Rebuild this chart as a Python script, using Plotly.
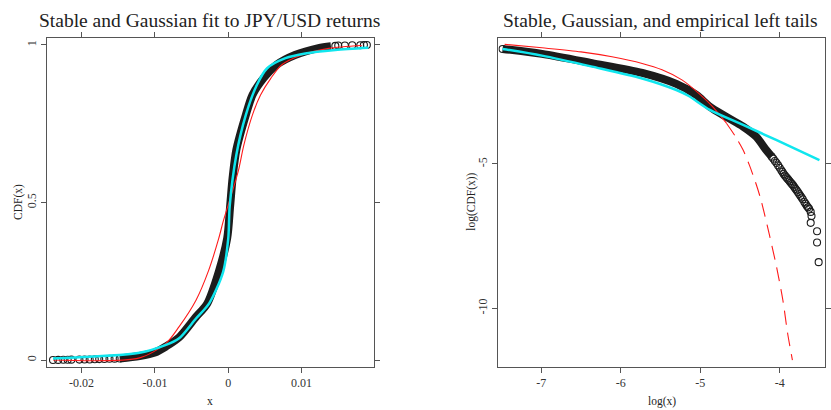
import plotly.graph_objects as go
from plotly.subplots import make_subplots

# ---- left panel: CDF of JPY/USD returns ----
emp_band_x = [-0.0148, -0.0121, -0.0100, -0.0085, -0.0067, -0.0044, -0.0029, -0.0013,
              -0.00015, 0.00026, 0.0006, 0.0011, 0.0024, 0.0033, 0.0048, 0.0066,
              0.0091, 0.0123, 0.0140]
emp_band_y = [0.005, 0.013, 0.024, 0.043, 0.072, 0.137, 0.178, 0.280,
              0.386, 0.490, 0.580, 0.667, 0.778, 0.841, 0.894, 0.937,
              0.968, 0.990, 0.996]
emp_tail_x = [-0.0239, -0.0232, -0.0225, -0.0219, -0.0214, -0.0203, -0.0196, -0.0189,
              -0.0182, -0.0176, -0.0169, -0.0162, -0.0155, -0.0148,
              0.0146, 0.0150, 0.0159, 0.0169, 0.0180, 0.0185, 0.0189]
emp_tail_y = [0.0003, 0.0005, 0.0008, 0.0010, 0.0013, 0.0015, 0.0018, 0.0020,
              0.0025, 0.0030, 0.0035, 0.0040, 0.0045, 0.0050,
              0.997, 0.998, 0.998, 0.999, 0.999, 1.0, 1.0]

stable_x = [-0.0239, -0.0121, -0.0085, -0.0067, -0.0044, -0.0026, -0.0007, 0.0000,
            0.0002, 0.0011, 0.0024, 0.0039, 0.0053, 0.0078, 0.0105, 0.0146, 0.0191]
stable_y = [0.005, 0.023, 0.048, 0.069, 0.132, 0.180, 0.280, 0.386,
            0.490, 0.651, 0.778, 0.873, 0.926, 0.958, 0.973, 0.984, 0.991]

gauss_x = [-0.0239, -0.0121, -0.0085, -0.0067, -0.0044, -0.0027, -0.0013, -0.0007,
           0.0001, 0.0014, 0.0021, 0.0033, 0.0044, 0.0058, 0.0073, 0.0100, 0.0137, 0.0182]
gauss_y = [0.0, 0.007, 0.053, 0.106, 0.190, 0.283, 0.386, 0.439,
           0.500, 0.603, 0.680, 0.778, 0.841, 0.894, 0.937, 0.968, 0.989, 0.998]

# ---- right panel: log-log left tails ----
tail_band_x = [-7.486, -6.99, -6.36, -5.73, -5.30, -5.05, -4.879, -4.67, -4.46, -4.295, -4.17, -4.10]
tail_band_y = [-1.02, -1.19, -1.51, -1.85, -2.23, -2.61, -3.02, -3.37, -3.71, -4.06, -4.52, -4.75]
tail_pts_x = [-4.10, -4.08, -4.06, -4.04, -4.02, -4.00, -3.98, -3.965, -3.95, -3.935, -3.92,
              -3.905, -3.89, -3.875, -3.86, -3.845, -3.83, -3.815, -3.80, -3.785, -3.77,
              -3.755, -3.74, -3.725, -3.71, -3.69, -3.675, -3.66, -3.645, -3.63, -3.61,
              -3.60, -3.61, -3.53, -3.53, -3.51]
tail_pts_y = [-4.75, -4.82, -4.90, -4.97, -5.05, -5.13, -5.22, -5.28, -5.35, -5.40, -5.45,
              -5.50, -5.55, -5.60, -5.65, -5.70, -5.75, -5.81, -5.87, -5.92, -5.98,
              -6.04, -6.10, -6.16, -6.22, -6.32, -6.38, -6.45, -6.50, -6.55, -6.66,
              -6.80, -7.04, -7.33, -7.72, -8.40]

stable_tail_x = [-7.486, -6.99, -6.36, -5.73, -5.30, -5.15, -4.879, -4.46, -4.045, -3.50]
stable_tail_y = [-1.02, -1.25, -1.63, -2.04, -2.44, -2.64, -3.13, -3.65, -4.17, -4.87]

gauss_tail_x = [-7.46, -6.99, -6.50, -6.11, -5.73, -5.48, -5.23, -5.00, -4.85, -4.67,
                -4.55, -4.46, -4.38, -4.30, -4.24, -4.19, -4.13, -4.04, -3.96, -3.90, -3.84]
gauss_tail_y = [-0.86, -0.98, -1.12, -1.29, -1.52, -1.74, -2.09, -2.60, -3.00, -3.59,
                -4.08, -4.52, -5.05, -5.67, -6.20, -6.75, -7.45, -8.56, -9.72, -10.87, -11.79]
N_SOLID = 10  # gaussian tail drawn solid up to here, dashed after

BLACK = "#1c1c1c"
RED = "#ff1a1a"
CYAN = "#10e6ee"
FONT = "Liberation Serif, Times New Roman, serif"

fig = make_subplots(rows=1, cols=2)


def curve(x, y, col, color, width, dash="solid"):
    fig.add_trace(go.Scatter(x=x, y=y, mode="lines", hoverinfo="skip",
                             line=dict(color=color, width=width, dash=dash,
                                       shape="spline", smoothing=0.8)),
                  row=1, col=col)


def circles(x, y, col):
    fig.add_trace(go.Scatter(x=x, y=y, mode="markers", hoverinfo="skip",
                             marker=dict(symbol="circle-open", size=7, color=BLACK,
                                         line=dict(width=1.1, color=BLACK))),
                  row=1, col=col)


curve(emp_band_x, emp_band_y, 1, BLACK, 8)
circles(emp_tail_x, emp_tail_y, 1)
curve(gauss_x, gauss_y, 1, RED, 1.1)
curve(stable_x, stable_y, 1, CYAN, 2.5)

curve(tail_band_x, tail_band_y, 2, BLACK, 8)
circles(tail_pts_x, tail_pts_y, 2)
circles(tail_band_x[:1], tail_band_y[:1], 2)
curve(gauss_tail_x[:N_SOLID], gauss_tail_y[:N_SOLID], 2, RED, 1.1)
curve(gauss_tail_x[N_SOLID - 1:], gauss_tail_y[N_SOLID - 1:], 2, RED, 1.1, "14px,8px")
curve(stable_tail_x, stable_tail_y, 2, CYAN, 2.5)

W, H = 831, 410
axis_style = dict(showline=True, linecolor="#555", linewidth=1, mirror="ticks",
                  ticks="outside", ticklen=5, tickcolor="#555", showgrid=False,
                  zeroline=False, tickfont=dict(family=FONT, size=12, color="#333"))

fig.update_xaxes(**axis_style)
fig.update_yaxes(**axis_style, tickangle=-90)

fig.update_layout(
    width=W, height=H, showlegend=False,
    paper_bgcolor="white", plot_bgcolor="white",
    margin=dict(l=0, r=0, t=0, b=0),
    font=dict(family=FONT, color="#333"),
    xaxis=dict(domain=[47 / W, 376 / W], range=[-0.02475, 0.0199],
               tickvals=[-0.02, -0.01, 0, 0.01], ticktext=["-0.02", "-0.01", "0", "0.01"]),
    yaxis=dict(domain=[1 - 367 / H, 1 - 38 / H], range=[-0.022, 1.022],
               tickvals=[0, 0.5, 1], ticktext=["0", "0.5", "1"]),
    xaxis2=dict(domain=[500.7 / W, 829 / W], range=[-7.54, -3.43],
                tickvals=[-7, -6, -5, -4], ticktext=["-7", "-6", "-5", "-4"]),
    yaxis2=dict(domain=[1 - 367 / H, 1 - 38 / H], range=[-12.03, -0.64],
                tickvals=[-5, -10], ticktext=["-5", "-10"]),
)

labels = [
    ("Stable and Gaussian fit to JPY/USD returns", 211, 20, 19.5, 0),
    ("Stable, Gaussian, and empirical left tails", 664, 20, 19.5, 0),
    ("x", 211.5, 401, 11.5, 0),
    ("log(x)", 665, 401, 11.5, 0),
    ("CDF(x)", 18, 202, 11.5, -90),
    ("log(CDF(x))", 473, 202, 11.5, -90),
]
for text, px, py, size, ang in labels:
    fig.add_annotation(text=text, x=px / W, y=1 - py / H, xref="paper", yref="paper",
                       showarrow=False, textangle=ang, xanchor="center", yanchor="middle",
                       font=dict(family=FONT, size=size, color="#222"))

# drop the default body margin so the figure sits at the page corner
fig.write_html("out.html", config={"displayModeBar": False},
               post_script="document.body.style.margin='0';")
